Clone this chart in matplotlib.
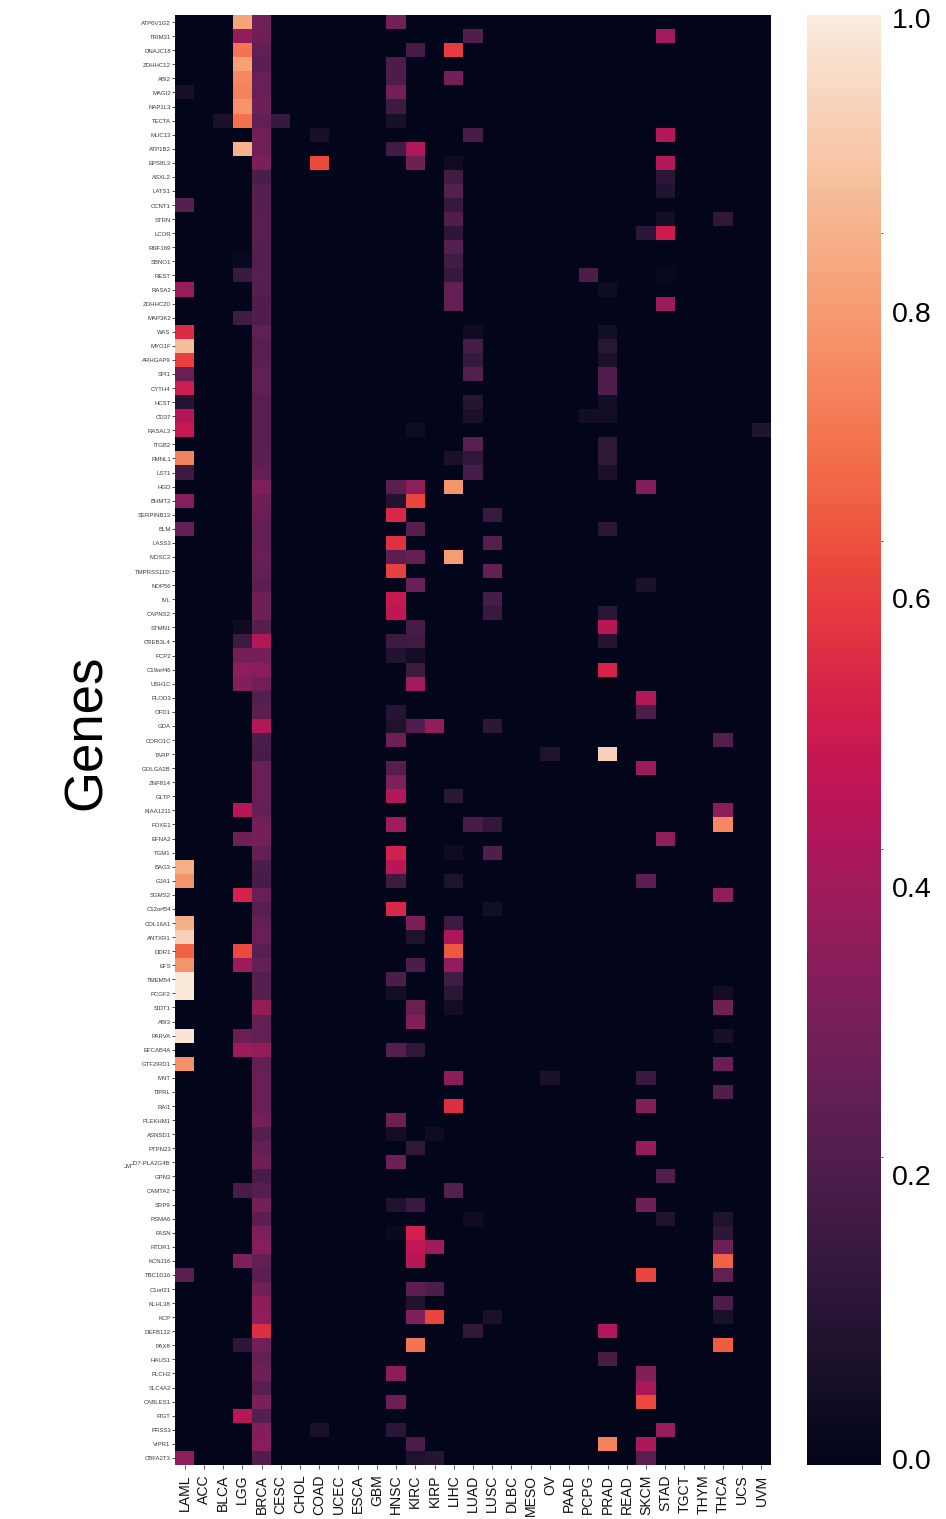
import numpy as np
import matplotlib
matplotlib.use('Agg')
import matplotlib.pyplot as plt
from matplotlib.transforms import ScaledTranslation
import seaborn as sns

plt.rcParams['font.family'] = ['Liberation Sans', 'DejaVu Sans']

cancers = ['LAML', 'ACC', 'BLCA', 'LGG', 'BRCA', 'CESC', 'CHOL', 'COAD', 'UCEC', 'ESCA', 'GBM',
           'HNSC', 'KIRC', 'KIRP', 'LIHC', 'LUAD', 'LUSC', 'DLBC', 'MESO', 'OV', 'PAAD', 'PCPG',
           'PRAD', 'READ', 'SKCM', 'STAD', 'TGCT', 'THYM', 'THCA', 'UCS', 'UVM']

genes = ['ATP6V1G2', 'TRIM31', 'DNAJC18', 'ZDHHC12', 'ABI2', 'MAGI2', 'NAP1L3', 'TECTA', 'MUC13',
         'ATP1B2', 'EPS8L3', 'ASXL2', 'LATS1', 'CCNT1', 'STRN', 'LCOR', 'RNF169', 'SBNO1', 'REST',
         'RASA2', 'ZDHHC20', 'MAP3K2', 'WAS', 'MYO1F', 'ARHGAP9', 'SPI1', 'CYTH4', 'HCST', 'CD37',
         'RASAL3', 'ITGB2', 'FMNL1', 'LST1', 'HGD', 'BHMT2', 'SERPINB13', 'BLM', 'LASS3', 'MOSC2',
         'TMPRSS11D', 'NOP56', 'IVL', 'CAPNS2', 'STMN1', 'CREB3L4', 'PCP2', 'C19orf46', 'USH1C',
         'PLOD3', 'OFD1', 'GDA', 'CORO1C', 'TARP', 'GOLGA2B', 'ZNF814', 'GLTP', 'KIAA1211', 'FOXE1',
         'EFNA2', 'TGM1', 'BAG3', 'GJA1', 'SGMS2', 'C12orf54', 'COL16A1', 'ANTXR1', 'DDR1', 'EFS',
         'TMEM54', 'PCGF2', 'SIDT1', 'ABI3', 'PARVA', 'EFCAB4A', 'GTF2IRD1', 'MNT', 'TIPRL', 'RAI1',
         'PLEKHM1', 'ASNSD1', 'PTPN23', 'JD7-PLA2G4B', 'GPN3', 'CAMTA2', 'SRP9', 'PSMA6', 'FASN',
         'RTDR1', 'KCNJ16', 'TBC1D16', 'C1orf21', 'KLHL38', 'KCP', 'DEFB132', 'PAX8', 'HAUS1',
         'PLCH2', 'SLC4A2', 'CABLES1', 'PIGT', 'PRSS3', 'VIPR1', 'CBFA2T3']

# BRCA is filled on every row, the other columns are sparse
brca = [.29, .28, .25, .24, .27, .27, .28, .25, .29, .29, .31, .20, .22, .22, .23, .23, .22, .22,
        .23, .22, .21, .21, .25, .23, .23, .25, .25, .23, .23, .23, .23, .24, .25, .32, .28, .27,
        .25, .26, .27, .26, .24, .28, .28, .22, .44, .30, .35, .29, .22, .24, .44, .20, .19, .27,
        .27, .27, .26, .30, .30, .26, .20, .19, .27, .23, .26, .27, .23, .26, .22, .22, .37, .25,
        .25, .37, .26, .27, .27, .27, .30, .22, .26, .28, .19, .22, .30, .24, .32, .34, .25, .24,
        .29, .35, .36, .56, .29, .26, .28, .23, .31, .22, .33, .34, .21]

laml = {'MAGI2': .06, 'CCNT1': .22, 'RASA2': .38, 'WAS': .55, 'MYO1F': .88, 'ARHGAP9': .60,
        'SPI1': .27, 'CYTH4': .51, 'HCST': .10, 'CD37': .44, 'RASAL3': .49, 'FMNL1': .74,
        'LST1': .16, 'BHMT2': .34, 'BLM': .25, 'BAG3': .84, 'GJA1': .78, 'COL16A1': .84,
        'ANTXR1': .93, 'DDR1': .67, 'EFS': .78, 'TMEM54': .99, 'PCGF2': .99, 'PARVA': .98,
        'GTF2IRD1': .77, 'TBC1D16': .23, 'CBFA2T3': .36}
blca = {'TECTA': .07}
lgg = {'ATP6V1G2': .82, 'TRIM31': .37, 'DNAJC18': .71, 'ZDHHC12': .81, 'ABI2': .75, 'MAGI2': .74,
       'NAP1L3': .78, 'TECTA': .70, 'ATP1B2': .85, 'REST': .15, 'MAP3K2': .17, 'SBNO1': .02,
       'STMN1': .04, 'CREB3L4': .16, 'PCP2': .30, 'C19orf46': .36, 'USH1C': .33, 'KIAA1211': .45,
       'EFNA2': .28, 'SGMS2': .53, 'DDR1': .62, 'EFS': .39, 'PARVA': .27, 'EFCAB4A': .39,
       'CAMTA2': .19, 'KCNJ16': .32, 'PAX8': .12, 'PIGT': .45}
cesc = {'TECTA': .14}
coad = {'MUC13': .06, 'EPS8L3': .62, 'PRSS3': .07}
hnsc = {'ATP6V1G2': .29, 'ZDHHC12': .20, 'ABI2': .20, 'MAGI2': .29, 'NAP1L3': .16, 'TECTA': .06,
        'ATP1B2': .17, 'HGD': .24, 'BHMT2': .09, 'SERPINB13': .54, 'LASS3': .57, 'MOSC2': .24,
        'TMPRSS11D': .60, 'IVL': .49, 'CAPNS2': .47, 'CREB3L4': .16, 'PCP2': .09, 'OFD1': .10,
        'GDA': .08, 'CORO1C': .28, 'GOLGA2B': .22, 'ZNF814': .32, 'GLTP': .44, 'FOXE1': .40,
        'TGM1': .52, 'BAG3': .46, 'GJA1': .16, 'C12orf54': .54, 'TMEM54': .20, 'PCGF2': .05,
        'PLEKHM1': .28, 'ASNSD1': .05, 'JD7-PLA2G4B': .28, 'SRP9': .08, 'FASN': .03, 'PLCH2': .35,
        'CABLES1': .27, 'PRSS3': .11, 'EFCAB4A': .22}
kirc = {'DNAJC18': .18, 'ATP1B2': .43, 'EPS8L3': .28, 'RASAL3': .04, 'HGD': .36, 'BHMT2': .61,
        'BLM': .22, 'MOSC2': .26, 'NOP56': .27, 'STMN1': .19, 'CREB3L4': .17, 'PCP2': .05,
        'C19orf46': .16, 'USH1C': .40, 'GDA': .21, 'COL16A1': .31, 'ANTXR1': .08, 'EFS': .20,
        'SIDT1': .27, 'ABI3': .33, 'EFCAB4A': .13, 'PTPN23': .13, 'SRP9': .15, 'FASN': .52,
        'RTDR1': .48, 'KCNJ16': .45, 'C1orf21': .24, 'KLHL38': .09, 'KCP': .32, 'PAX8': .71,
        'VIPR1': .20, 'CBFA2T3': .08}
kirp = {'GDA': .37, 'ASNSD1': .04, 'RTDR1': .39, 'C1orf21': .20, 'KCP': .61, 'CBFA2T3': .10}
lihc = {'DNAJC18': .59, 'ABI2': .30, 'EPS8L3': .04, 'ASXL2': .17, 'LATS1': .22, 'CCNT1': .14,
        'STRN': .21, 'LCOR': .12, 'RNF169': .22, 'SBNO1': .17, 'REST': .14, 'RASA2': .25,
        'ZDHHC20': .25, 'FMNL1': .07, 'HGD': .78, 'MOSC2': .80, 'GLTP': .11, 'TGM1': .04,
        'GJA1': .08, 'COL16A1': .16, 'ANTXR1': .42, 'DDR1': .65, 'EFS': .36, 'TMEM54': .17,
        'PCGF2': .11, 'SIDT1': .05, 'MNT': .35, 'RAI1': .56, 'CAMTA2': .22}
luad = {'TRIM31': .21, 'MUC13': .19, 'WAS': .04, 'MYO1F': .18, 'ARHGAP9': .14, 'SPI1': .22,
        'HCST': .10, 'CD37': .07, 'ITGB2': .23, 'FMNL1': .13, 'LST1': .19, 'FOXE1': .19,
        'PSMA6': .04, 'DEFB132': .13}
lusc = {'SERPINB13': .15, 'LASS3': .22, 'TMPRSS11D': .26, 'IVL': .19, 'CAPNS2': .15, 'GDA': .12,
        'FOXE1': .13, 'TGM1': .21, 'C12orf54': .05, 'KCP': .07}
ov = {'TARP': .08, 'MNT': .07}
pcpg = {'REST': .20, 'CD37': .05}
prad = {'RASA2': .04, 'WAS': .05, 'MYO1F': .11, 'ARHGAP9': .07, 'SPI1': .21, 'CYTH4': .21,
        'HCST': .05, 'CD37': .05, 'ITGB2': .13, 'FMNL1': .13, 'LST1': .07, 'BLM': .11,
        'CAPNS2': .11, 'STMN1': .46, 'CREB3L4': .10, 'C19orf46': .53, 'TARP': .93, 'DEFB132': .43,
        'HAUS1': .19, 'VIPR1': .74}
skcm = {'LCOR': .12, 'HGD': .33, 'NOP56': .07, 'PLOD3': .44, 'OFD1': .20, 'GOLGA2B': .39,
        'GJA1': .24, 'MNT': .15, 'RAI1': .33, 'PTPN23': .37, 'SRP9': .28, 'TBC1D16': .61,
        'PLCH2': .33, 'SLC4A2': .42, 'CABLES1': .62, 'VIPR1': .42, 'CBFA2T3': .23}
stad = {'TRIM31': .41, 'MUC13': .44, 'EPS8L3': .44, 'ASXL2': .12, 'LATS1': .09, 'STRN': .05,
        'LCOR': .50, 'REST': .02, 'ZDHHC20': .39, 'EFNA2': .36, 'GPN3': .21, 'PSMA6': .08,
        'PRSS3': .38}
thca = {'STRN': .13, 'CORO1C': .22, 'KIAA1211': .35, 'FOXE1': .75, 'SGMS2': .36, 'PCGF2': .05,
        'SIDT1': .28, 'PARVA': .06, 'GTF2IRD1': .27, 'TIPRL': .21, 'PSMA6': .08, 'FASN': .12,
        'RTDR1': .28, 'KCNJ16': .67, 'TBC1D16': .25, 'KLHL38': .20, 'KCP': .07, 'PAX8': .66}
uvm = {'RASAL3': .09}

sparse = {'LAML': laml, 'BLCA': blca, 'LGG': lgg, 'CESC': cesc, 'COAD': coad, 'HNSC': hnsc,
          'KIRC': kirc, 'KIRP': kirp, 'LIHC': lihc, 'LUAD': luad, 'LUSC': lusc, 'OV': ov,
          'PCPG': pcpg, 'PRAD': prad, 'SKCM': skcm, 'STAD': stad, 'THCA': thca, 'UVM': uvm}

mat = np.zeros((len(genes), len(cancers)))
mat[:, cancers.index('BRCA')] = brca
for c in sparse:
    for g in sparse[c]:
        mat[genes.index(g), cancers.index(c)] = sparse[c][g]

W, H = 946, 1519
fig = plt.figure(figsize=(W / 100, H / 100), dpi=100)
ax = fig.add_axes([175 / W, 1 - 1465 / H, 596 / W, 1450 / H])
cax = fig.add_axes([807 / W, 1 - 1465 / H, 74 / W, 1450 / H])

sns.heatmap(mat, ax=ax, cbar_ax=cax, cmap='rocket', vmin=0, vmax=1,
            xticklabels=cancers, yticklabels=genes)

ax.tick_params(axis='x', labelsize=10.1, length=3, width=0.5, pad=4, colors='#111111')
ax.tick_params(axis='y', labelsize=4.3, length=2, width=0.5, pad=1, labelcolor='#3a3a3a')
plt.setp(ax.get_xticklabels(), rotation=90, va='top', ha='center')
plt.setp(ax.get_yticklabels(), rotation=0, va='center')

# gene labels sit one pixel lower than the ticks
down = ScaledTranslation(0, -1 / 100, fig.dpi_scale_trans)
for lab in ax.get_yticklabels():
    lab.set_transform(lab.get_transform() + down)

# piece of the long gene name that sits off to the left in the original
ax.annotate('JM', xy=(0, genes.index('JD7-PLA2G4B') + 0.5), xycoords=('axes fraction', 'data'),
            xytext=(-31, -3), textcoords='offset points', fontsize=4.3, color='#3a3a3a',
            ha='right', va='center')

fig.text(87 / W, 1 - 732 / H, 'Genes', rotation=90, fontsize=38, ha='center', va='center')

# the colorbar ticks and the labels do not line up in the original
cax.set_yticks([0.2124, 0.4248, 0.6372, 0.8496])
cax.set_yticklabels([])
cax.tick_params(axis='y', length=1.5, width=0.5, right=True, left=False)
for s in cax.spines.values():
    s.set_visible(False)

cbar_labels = ['1.0', '0.8', '0.6', '0.4', '0.2', '0.0']
cbar_label_y = [21, 315, 601, 890, 1178, 1462]
for lab, y in zip(cbar_labels, cbar_label_y):
    fig.text(892 / W, 1 - y / H, lab, fontsize=20.5, ha='left', va='center')

fig.savefig('out.png', dpi=100)
